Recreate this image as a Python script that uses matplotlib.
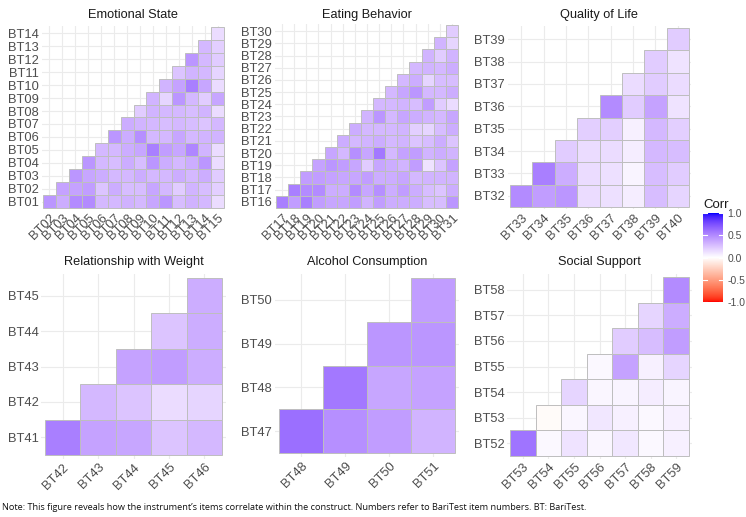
import matplotlib

matplotlib.use("Agg")
import matplotlib.pyplot as plt
import numpy as np
from matplotlib.colors import ListedColormap, Normalize
from matplotlib.patches import Rectangle

# Upper-triangle correlations: row k = item k against items k+1..n
emotional_state = [
    [0.45, 0.35, 0.50, 0.50, 0.30, 0.30, 0.33, 0.30, 0.38, 0.45, 0.28, 0.33, 0.30, 0.15],
    [0.40, 0.40, 0.42, 0.25, 0.35, 0.28, 0.28, 0.38, 0.30, 0.22, 0.32, 0.28, 0.20],
    [0.45, 0.38, 0.35, 0.30, 0.30, 0.35, 0.30, 0.30, 0.35, 0.30, 0.35, 0.22],
    [0.45, 0.30, 0.28, 0.35, 0.28, 0.45, 0.35, 0.30, 0.35, 0.45, 0.15],
    [0.30, 0.30, 0.35, 0.38, 0.55, 0.42, 0.38, 0.52, 0.32, 0.15],
    [0.45, 0.35, 0.48, 0.30, 0.30, 0.38, 0.30, 0.32, 0.32],
    [0.35, 0.32, 0.30, 0.28, 0.30, 0.28, 0.25, 0.30],
    [0.22, 0.32, 0.30, 0.30, 0.28, 0.32, 0.15],
    [0.32, 0.18, 0.45, 0.30, 0.22, 0.38],
    [0.32, 0.40, 0.55, 0.38, 0.15],
    [0.25, 0.32, 0.30, 0.18],
    [0.45, 0.30, 0.22],
    [0.30, 0.20],
    [0.15],
]
eating_behavior = [
    [0.55, 0.42, 0.55, 0.42, 0.38, 0.38, 0.42, 0.32, 0.42, 0.35, 0.35, 0.35, 0.28, 0.28, 0.45],
    [0.55, 0.50, 0.50, 0.35, 0.35, 0.50, 0.38, 0.48, 0.35, 0.42, 0.35, 0.28, 0.25, 0.35],
    [0.42, 0.42, 0.40, 0.38, 0.38, 0.42, 0.35, 0.35, 0.38, 0.30, 0.32, 0.32, 0.32],
    [0.40, 0.45, 0.42, 0.38, 0.22, 0.38, 0.35, 0.32, 0.42, 0.12, 0.25, 0.40],
    [0.38, 0.30, 0.48, 0.38, 0.58, 0.30, 0.40, 0.42, 0.32, 0.35, 0.32],
    [0.35, 0.30, 0.32, 0.35, 0.30, 0.32, 0.25, 0.28, 0.35, 0.25],
    [0.35, 0.30, 0.30, 0.30, 0.32, 0.20, 0.18, 0.28, 0.35],
    [0.32, 0.45, 0.30, 0.38, 0.35, 0.32, 0.30, 0.38],
    [0.30, 0.30, 0.32, 0.28, 0.42, 0.22, 0.15],
    [0.30, 0.38, 0.45, 0.30, 0.30, 0.35],
    [0.30, 0.35, 0.18, 0.28, 0.28],
    [0.30, 0.32, 0.30, 0.35],
    [0.32, 0.22, 0.32],
    [0.32, 0.18],
    [0.22],
]
quality_of_life = [
    [0.50, 0.42, 0.45, 0.15, 0.13, 0.08, 0.28, 0.18],
    [0.55, 0.35, 0.15, 0.13, 0.05, 0.28, 0.22],
    [0.22, 0.15, 0.15, 0.08, 0.30, 0.28],
    [0.20, 0.20, 0.06, 0.30, 0.20],
    [0.50, 0.22, 0.40, 0.12],
    [0.15, 0.22, 0.15],
    [0.22, 0.12],
    [0.22],
]
relationship_weight = [
    [0.55, 0.40, 0.38, 0.25, 0.30],
    [0.30, 0.25, 0.15, 0.18],
    [0.40, 0.42, 0.35],
    [0.25, 0.35],
    [0.35],
]
alcohol_consumption = [
    [0.62, 0.48, 0.42, 0.32],
    [0.58, 0.38, 0.40],
    [0.45, 0.45],
    [0.42],
]
social_support = [
    [0.60, 0.03, 0.12, 0.04, 0.10, 0.03, 0.06],
    [-0.02, 0.04, 0.10, 0.06, 0.03, 0.06],
    [0.18, 0.04, 0.05, 0.08, 0.05],
    [0.03, 0.40, 0.06, 0.18],
    [0.22, 0.28, 0.42],
    [0.18, 0.35],
    [0.50],
]

titles = ["Emotional State", "Eating Behavior", "Quality of Life",
          "Relationship with Weight", "Alcohol Consumption", "Social Support"]
first_items = [1, 16, 32, 41, 47, 52]
panel_data = [emotional_state, eating_behavior, quality_of_life,
              relationship_weight, alcohol_consumption, social_support]
legend_breaks = [-1.0, -0.5, 0.0, 0.5, 1.0]

W, H = 746, 517
# cell block extents in pixels: left, right, top, bottom
boxes = [(43, 224, 27, 208), (276, 458, 25, 208), (510, 689, 28, 207),
         (45, 222, 278, 455), (279, 455, 278, 453), (510, 689, 277, 456)]
title_y = [15, 15, 15, 262, 262, 262]

LABEL = "#4D4D4D"
plt.rcParams["font.family"] = ["Liberation Sans", "DejaVu Sans"]


def srgb_to_lab(rgb):
    rgb = np.asarray(rgb, dtype=float)
    lin = np.where(rgb <= 0.04045, rgb / 12.92, ((rgb + 0.055) / 1.055) ** 2.4)
    m = np.array([[0.4124, 0.3576, 0.1805],
                  [0.2126, 0.7152, 0.0722],
                  [0.0193, 0.1192, 0.9505]])
    xyz = m @ lin / np.array([0.95047, 1.0, 1.08883])
    f = np.where(xyz > 0.008856, np.cbrt(xyz), 7.787 * xyz + 16 / 116)
    return np.array([116 * f[1] - 16, 500 * (f[0] - f[1]), 200 * (f[1] - f[2])])


def lab_to_srgb(lab):
    L, a, b = lab
    fy = (L + 16) / 116
    f = np.array([fy + a / 500, fy, fy - b / 200])
    xyz = np.where(f ** 3 > 0.008856, f ** 3, (f - 16 / 116) / 7.787)
    xyz = xyz * np.array([0.95047, 1.0, 1.08883])
    m = np.array([[3.2406, -1.5372, -0.4986],
                  [-0.9689, 1.8758, 0.0415],
                  [0.0557, -0.2040, 1.0570]])
    lin = m @ xyz
    rgb = np.where(lin <= 0.0031308, 12.92 * lin, 1.055 * np.clip(lin, 0, None) ** (1 / 2.4) - 0.055)
    return np.clip(rgb, 0, 1)


# gradient2 red-white-blue interpolated in Lab, like ggplot
red, white, blue = srgb_to_lab([1, 0, 0]), srgb_to_lab([1, 1, 1]), srgb_to_lab([0, 0, 1])
colors = []
for v in np.linspace(-1, 1, 257):
    end = red if v < 0 else blue
    colors.append(lab_to_srgb(white + abs(v) * (end - white)))
cmap = ListedColormap(colors)
norm = Normalize(-1, 1)

fig = plt.figure(figsize=(W / 100, H / 100), dpi=100)

for title, start, rows, box, ty in zip(titles, first_items, panel_data, boxes, title_y):
    m = len(rows)
    left, right, top, bottom = box
    cw = (right - left) / m
    ch = (bottom - top) / m
    ax = fig.add_axes([(left - 0.1 * cw) / W, 1 - (bottom + 0.1 * ch) / H,
                       (right - left + 0.2 * cw) / W, (bottom - top + 0.2 * ch) / H])
    # only the lower triangle tiles get drawn
    for i, row in enumerate(rows):
        for k, v in enumerate(row):
            j = i + k
            ax.add_patch(Rectangle((j - 0.5, i - 0.5), 1, 1, facecolor=cmap(norm(v)),
                                   edgecolor="#BEBEBE", linewidth=0.7, zorder=2))
    ax.set_xlim(-0.6, m - 0.4)
    ax.set_ylim(-0.6, m - 0.4)
    ax.set_xticks(range(m))
    ax.set_yticks(range(m))
    ax.set_xticklabels([f"BT{start + 1 + j:02d}" for j in range(m)], rotation=45,
                       ha="right", va="top", rotation_mode="anchor")
    ax.set_yticklabels([f"BT{start + i:02d}" for i in range(m)])
    ax.tick_params(length=0, labelsize=9.3, labelcolor=LABEL, pad=2)
    ax.grid(True, color="#EBEBEB", linewidth=0.8, zorder=0)
    ax.set_axisbelow(True)
    for s in ax.spines.values():
        s.set_visible(False)
    fig.text((left + right) / 2 / W, 1 - ty / H, title, ha="center", va="center",
             fontsize=9.2, color="#1A1A1A")

# colour bar legend
cax = fig.add_axes([703 / W, 1 - 302 / H, 20 / W, 89 / H])
grad = np.linspace(-1, 1, 300).reshape(-1, 1)
cax.imshow(grad, cmap=cmap, vmin=-1, vmax=1, origin="lower", aspect="auto",
           extent=[0, 1, -1, 1])
cax.set_xlim(0, 1)
cax.set_ylim(-1, 1)
for b in legend_breaks:
    cax.plot([0, 0.2], [b, b], color="white", lw=0.8)
    cax.plot([0.8, 1], [b, b], color="white", lw=0.8)
cax.set_xticks([])
cax.yaxis.tick_right()
cax.set_yticks(legend_breaks)
cax.set_yticklabels([f"{b:.1f}" for b in legend_breaks])
cax.tick_params(length=0, labelsize=7.5, labelcolor=LABEL, pad=3)
for s in cax.spines.values():
    s.set_visible(False)
fig.text(703 / W, 1 - 205 / H, "Corr", ha="left", va="center", fontsize=9.5, color="#1A1A1A")

fig.text(2 / W, 1 - 508 / H,
         "Note: This figure reveals how the instrument\u2019s items correlate within the construct. "
         "Numbers refer to BariTest item numbers. BT: BariTest.",
         ha="left", va="center", fontsize=6.6, family=["Open Sans", "DejaVu Sans"], color="#111111")

fig.savefig("out.png", dpi=100)
plt.close(fig)
